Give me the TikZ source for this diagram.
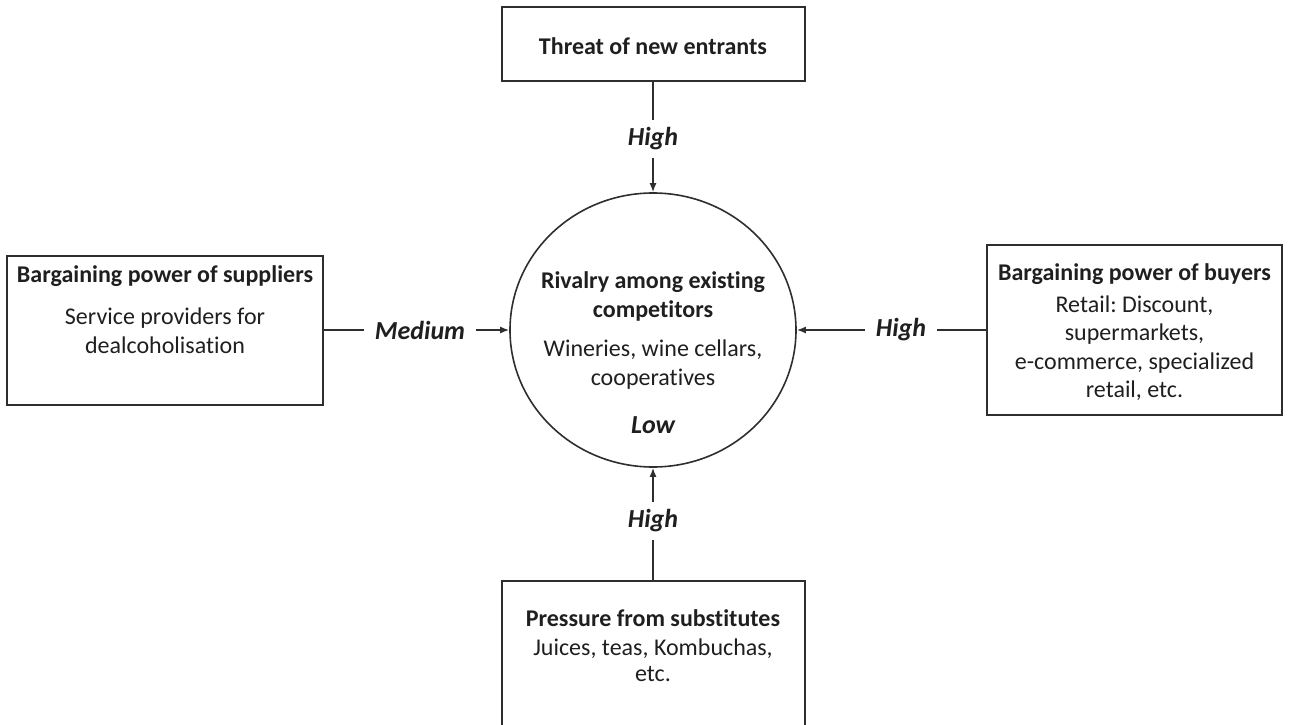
\documentclass[tikz,border=0pt]{standalone}
\usepackage{fontspec}
\setmainfont{Carlito}[Ligatures=NoCommon]
\frenchspacing
\usetikzlibrary{shapes.geometric,arrows.meta}
\colorlet{ink}{black!88}
\colorlet{linecol}{black!82}
\tikzset{
  box/.style={draw=linecol, line width=2pt, rectangle, inner sep=0pt},
  head/.style={font=\fontsize{24}{28.5}\selectfont\bfseries, text=ink, align=center},
  body/.style={font=\fontsize{24}{28.5}\selectfont, text=ink, align=center},
  level/.style={font=\fontsize{26}{30}\selectfont\bfseries\itshape, text=ink, inner xsep=11pt, inner ysep=7pt},
  force/.style={draw=linecol, line width=1.6pt},
  push/.style={force, -{Latex[length=9pt,width=7pt]}}
}

\begin{document}
\begin{tikzpicture}[x=1pt,y=-1pt]
\useasboundingbox (0,0) rectangle (1291,725);
\clip (0,0) rectangle (1291,725);

% centre
\node[ellipse, draw=linecol, line width=1.6pt, minimum width=286pt, minimum height=274pt, inner sep=0pt] (rivalry) at (653,330) {};
\node[head] (rivalryhead) at (653,296.5) {Rivalry among existing\\competitors};
\node[body] (rivalrybody) at (653,364.5) {Wineries, wine cellars,\\cooperatives};
\node[level] (low) at (653,425) {Low};

% top
\node[box, minimum width=303pt, minimum height=74pt] (entrants) at (653,44) {};
\node[head] (entrantshead) at (653,46) {Threat of new entrants};
\node[level] (hightop) at (653,139) {High};
\draw[force] (entrants) -- (hightop);
\draw[push] (hightop) -- (rivalry);

% left
\node[box, minimum width=316pt, minimum height=149pt] (suppliers) at (165,330) {};
\node[head] (suppliershead) at (165,276) {Bargaining power of suppliers};
\node[body] (suppliersbody) at (165,331) {Service providers for\\dealcoholisation};
\node[level] (medium) at (420,330) {Medium};
\draw[force] (suppliers) -- (medium);
\draw[push] (medium) -- (rivalry);

% right
\node[box, minimum width=295pt, minimum height=170pt] (buyers) at (1134.5,330) {};
\node[head] (buyershead) at (1134.5,274) {Bargaining power of buyers};
\node[body] (buyersbody) at (1134.5,348) {Retail: Discount,\\supermarkets,\\e-commerce, specialized\\retail, etc.};
\node[level] (highright) at (901,330) {High};
\draw[force] (buyers) -- (highright);
\draw[push] (highright) -- (rivalry);

% bottom
\node[box, minimum width=303pt, minimum height=200pt] (substitutes) at (653,681) {};
\node[head] (substituteshead) at (653,618) {Pressure from substitutes};
\node[body, execute at begin node={\setlength{\baselineskip}{26pt}}] (substitutesbody) at (653,660) {Juices, teas, Kombuchas,\\etc.};
\node[level] (highbottom) at (653,521) {High};
\draw[force] (substitutes) -- (highbottom);
\draw[push] (highbottom) -- (rivalry);
\end{tikzpicture}
\end{document}
